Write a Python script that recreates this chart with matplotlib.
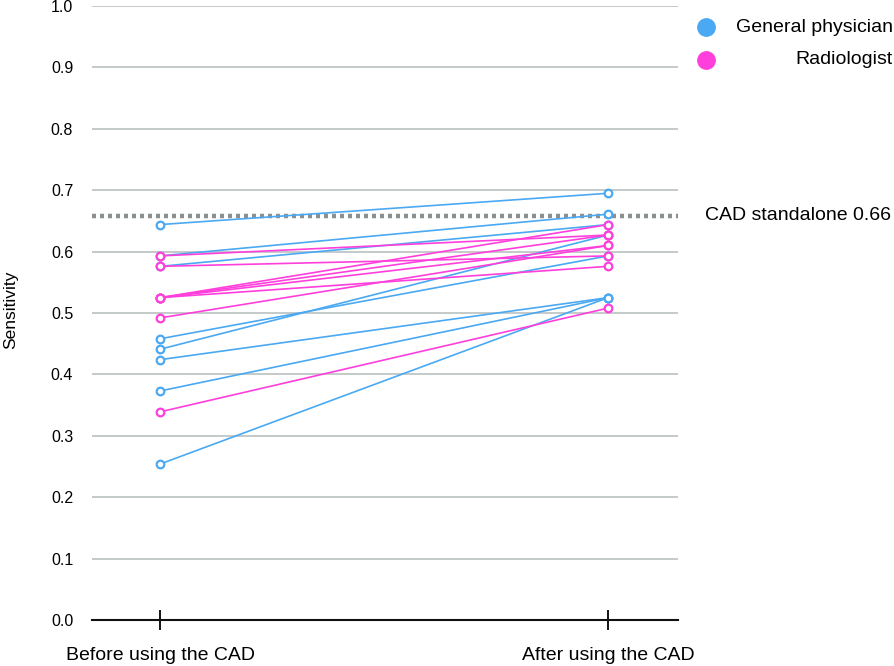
import matplotlib
matplotlib.use("Agg")
import matplotlib.pyplot as plt
from matplotlib.lines import Line2D

plt.rcParams['font.family'] = ['Liberation Sans', 'DejaVu Sans']

categories = ["Before using the CAD", "After using the CAD"]
gp_before = [0.644, 0.593, 0.576, 0.458, 0.441, 0.424, 0.373, 0.254]
gp_after = [0.695, 0.661, 0.644, 0.593, 0.627, 0.525, 0.525, 0.525]
rad_before = [0.593, 0.576, 0.525, 0.525, 0.525, 0.525, 0.492, 0.339]
rad_after = [0.627, 0.593, 0.644, 0.627, 0.610, 0.576, 0.610, 0.508]
cad_standalone = 0.658
cad_label = "CAD standalone 0.66"
legend_labels = ["General physician", "Radiologist"]
yticks = [0.0, 0.1, 0.2, 0.3, 0.4, 0.5, 0.6, 0.7, 0.8, 0.9, 1.0]

blue = '#4aa9f2'
pink = '#ff3fdc'

W, H = 895, 666
fig = plt.figure(figsize=(W / 100, H / 100), dpi=100)
ax = fig.add_axes([92 / W, (H - 620) / H, (678 - 92) / W, (620 - 6) / H])

x = [0, 1]
for b, a in zip(gp_before, gp_after):
    ax.plot(x, [b, a], color=blue, lw=1.2, marker='o', ms=5.5, mfc='white',
            mec=blue, mew=1.6, zorder=3)
for b, a in zip(rad_before, rad_after):
    ax.plot(x, [b, a], color=pink, lw=1.2, marker='o', ms=5.5, mfc='white',
            mec=pink, mew=1.6, zorder=4)

ax.axhline(cad_standalone, color='#8a8f8f', lw=3.2, ls=(0, (0.9, 0.9)), zorder=2)

ax.set_xlim(-0.152, 1.156)
ax.set_ylim(0, 1.0)
ax.set_yticks(yticks)
ax.set_yticklabels([f"{v:.1f}" for v in yticks])
ax.set_xticks(x)
ax.set_xticklabels(categories)
for v in yticks[1:]:
    ax.axhline(v, color='#b4bcbc', lw=1.1, zorder=1)

for s in ['top', 'right', 'left']:
    ax.spines[s].set_visible(False)
ax.spines['bottom'].set_linewidth(1.5)
ax.spines['bottom'].set_color('#111111')
ax.tick_params(axis='y', length=0, pad=13.5, labelsize=11.5)
ax.tick_params(axis='x', direction='inout', length=14.5, width=1.4, pad=12,
               labelsize=14, color='#111111')

fig.text(11 / W, 1 - 310 / H, "Sensitivity", rotation=90, fontsize=12.5,
         ha='center', va='center')

ax.text((705 - 92) / 586, cad_standalone, cad_label,
        transform=ax.get_yaxis_transform(), fontsize=14, va='center',
        ha='left', clip_on=False)

# legend
for (lab, col, ypx) in zip(legend_labels, [blue, pink], [27, 60]):
    fig.add_artist(Line2D([706 / W], [1 - ypx / H], transform=fig.transFigure,
                          ls='none', marker='o', ms=12.5, mfc=col, mec=col))
    fig.text(893 / W, 1 - ypx / H, lab, fontsize=14, ha='right', va='center')

fig.savefig("out.png", dpi=100)
